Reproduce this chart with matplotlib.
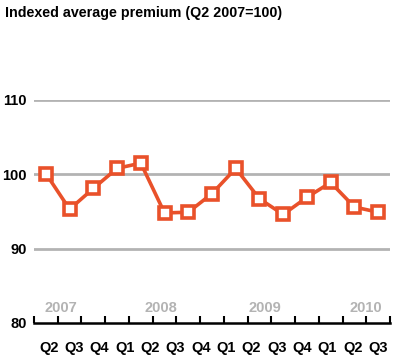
import matplotlib
matplotlib.use("Agg")
import matplotlib.pyplot as plt
import numpy as np

# index values per quarter, Q2 2007 .. Q4 2010
values = [100.1, 95.3, 98.1, 100.8, 101.5, 94.8, 94.9, 97.4, 100.8,
          96.7, 94.6, 96.9, 98.9, 95.6, 94.9]
quarters = ["Q2", "Q3", "Q4", "Q1", "Q2", "Q3", "Q4", "Q1", "Q2", "Q3",
            "Q4", "Q1", "Q2", "Q3"]
years = ["2007", "2008", "2009", "2010"]
year_pos = [0.63, 4.86, 9.22, 13.5]
yticks = [80, 90, 100, 110]

ORANGE = "#e9512a"
GREY = "#b3b3b3"
plt.rcParams["font.family"] = ["Liberation Sans", "DejaVu Sans"]

fig = plt.figure(figsize=(4.0, 3.58), dpi=100)
ax = fig.add_axes([0.085, 0.0978, 0.89, 0.623])

x = np.arange(len(values))
for yv in yticks[1:]:
    ax.axhline(yv, color=GREY, lw=2.0, zorder=1)
ax.plot(x, values, "-s", color=ORANGE, lw=2.6, ms=8.5, mfc="white",
        mec=ORANGE, mew=2.6, zorder=3, clip_on=False)

ax.set_xlim(-0.5, len(values) - 0.5)
ax.set_ylim(80, 110)
ax.set_yticks(yticks)
ax.set_yticklabels([str(v) for v in yticks], fontsize=10.5, fontweight="bold")
ax.tick_params(axis="y", length=0, pad=5)

ax.set_xticks(np.arange(-0.5, len(values), 1.0))
ax.set_xticklabels([])
ax.tick_params(axis="x", direction="in", length=5, width=1.5, color="black")
for sp in ("top", "right", "left"):
    ax.spines[sp].set_visible(False)
ax.spines["bottom"].set_linewidth(1.8)

qpos = np.linspace(0.13, 14.0, len(quarters))
for q, p in zip(quarters, qpos):
    ax.text(p, 76.6, q, ha="center", va="center", fontsize=10.5,
            fontweight="bold", clip_on=False)
for y_, p in zip(years, year_pos):
    ax.text(p, 82.0, y_, ha="center", va="center", fontsize=10.5,
            fontweight="bold", color=GREY)

fig.text(0.012, 0.963, "Indexed average premium (Q2 2007=100)",
         fontsize=10.3, fontweight="bold", ha="left", va="center")

fig.savefig("out.png", dpi=100)
